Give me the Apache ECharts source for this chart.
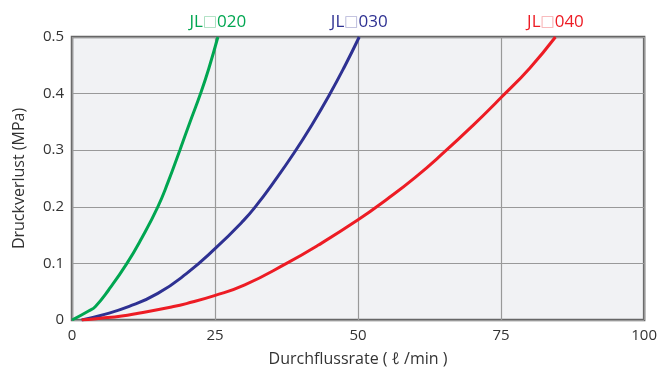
<!DOCTYPE html>
<html><head><meta charset="utf-8">
<script src="https://cdn.jsdelivr.net/npm/echarts@6/dist/echarts.min.js"></script>
<style>html,body{margin:0;padding:0;background:#fff}#c{width:660px;height:372px}</style>
</head><body><div id="c"></div>
<script>
const xTicks = [0, 25, 50, 75, 100];
const yTicks = [0, 0.1, 0.2, 0.3, 0.4, 0.5];
const seriesNames = ['JL□020', 'JL□030', 'JL□040'];
const jl020 = [[0,0],[2.9,0.016],[4.1,0.024],[6.4,0.053],[9.6,0.1],[12.2,0.145],[15,0.2],[16.8,0.244],[18.85,0.3],[20.6,0.349],[22.5,0.401],[23.9,0.444],[25.5,0.5]];
const jl030 = [[1.7,0],[5,0.008],[10,0.024],[15,0.047],[20,0.082],[25,0.126],[30,0.176],[32.2,0.202],[35.3,0.244],[38.8,0.295],[42,0.346],[45,0.398],[47.6,0.447],[50.2,0.5]];
const jl040 = [[1.7,0],[5,0.003],[8.7,0.007],[11.6,0.012],[17.4,0.023],[20,0.029],[24.9,0.043],[30.2,0.062],[37.5,0.1],[43,0.132],[50,0.177],[55,0.213],[60,0.252],[65,0.296],[70,0.343],[75,0.393],[80,0.445],[84.5,0.5]];
const colors = ['#00a651', '#2e3192', '#ed1c24'];
const boxColors = ['#9fdcb8', '#b3b4d8', '#f7a8ab'];
const allData = [jl020, jl030, jl040];

const chart = echarts.init(document.getElementById('c'), null, {renderer:'canvas'});
const FONT = '"Open Sans", "Noto Sans", sans-serif';
chart.setOption({
  animation: false,
  grid: {left: 72, right: 14, top: 37, bottom: 49, show: true, backgroundColor: '#f1f2f4', borderColor: '#666', borderWidth: 2.5},
  xAxis: {
    type: 'value', min: 0, max: 100, interval: 25,
    name: 'Durchflussrate ( ℓ /min )', nameLocation: 'middle', nameGap: 31,
    nameTextStyle: {color: '#333', fontSize: 16, fontFamily: FONT},
    axisLine: {show: false}, axisTick: {show: false},
    axisLabel: {color: '#333', fontSize: 15, fontFamily: FONT, margin: 8},
    splitLine: {show: true, lineStyle: {color: '#999', width: 1.2}}
  },
  yAxis: {
    type: 'value', min: 0, max: 0.5, interval: 0.1,
    name: 'Druckverlust (MPa)', nameLocation: 'middle', nameGap: 45, nameRotate: 90,
    nameTextStyle: {color: '#333', fontSize: 16, fontFamily: FONT},
    axisLine: {show: false}, axisTick: {show: false},
    axisLabel: {color: '#333', fontSize: 15, fontFamily: FONT, margin: 8,
      formatter: v => v === 0 ? '0' : v.toFixed(1)},
    splitLine: {show: true, lineStyle: {color: '#999', width: 1.2}}
  },
  series: allData.map((d, i) => ({
    name: seriesNames[i], type: 'line', data: d, smooth: 0.5, symbol: 'none',
    lineStyle: {color: colors[i], width: 3}, z: 3,
    markPoint: {
      symbol: 'circle', symbolSize: 0,
      data: [{coord: d[d.length - 1]}],
      label: {
        show: true, position: 'top', distance: 6,
        formatter: '{a|JL}{b|□}{a|' + seriesNames[i].slice(3) + '}',
        rich: {
          a: {color: colors[i], fontSize: 17, fontFamily: FONT},
          b: {color: boxColors[i], fontSize: 15, fontFamily: '"DejaVu Sans", sans-serif'}
        }
      }
    }
  }))
});
</script></body></html>
